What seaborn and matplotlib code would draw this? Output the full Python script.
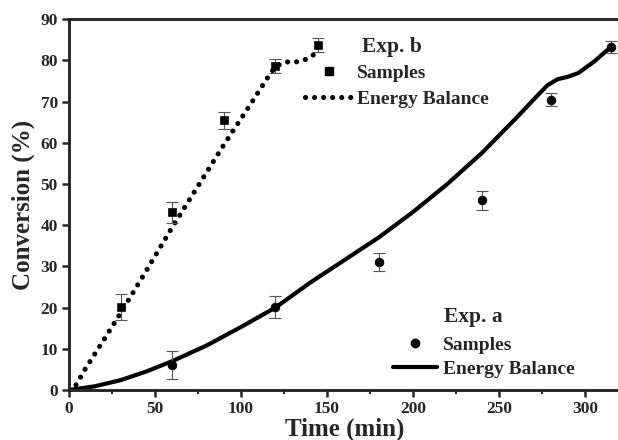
import matplotlib

matplotlib.use("Agg")

import matplotlib.pyplot as plt
import numpy as np
import pandas as pd
import seaborn as sns
from matplotlib.lines import Line2D
from matplotlib.ticker import MultipleLocator

# ── data
# Exp. b
b_time = [30, 60, 90, 120, 145]
b_conv = [20.1, 43.1, 65.4, 78.7, 83.7]
b_err = [3.1, 2.5, 2.1, 1.7, 1.6]
b_model_time = [0, 3, 10, 20, 30, 45, 60, 75, 90, 105, 115, 120, 126, 132, 137, 142, 145]
b_model_conv = [0, 0.5, 5.5, 12, 18.7, 29, 39.5, 49.5, 59.5, 69, 75.5, 78.5, 79.6, 79.6, 80.1, 81.3, 83.5]

# Exp. a
a_time = [60, 120, 180, 240, 280, 315]
a_conv = [6.1, 20.1, 31.0, 46.1, 70.4, 83.3]
a_err = [3.4, 2.7, 2.2, 2.3, 1.6, 1.5]
a_model_time = [0, 15, 30, 45, 60, 80, 100, 120, 140, 160, 180, 200, 220, 240, 260, 272, 278, 284,
                290, 296, 305, 315]
a_model_conv = [0, 0.9, 2.4, 4.5, 7.0, 10.8, 15.3, 20.0, 26.0, 31.5, 37.0, 43.2, 50.0, 57.5, 66.0, 71.3,
                73.9, 75.4, 76.0, 76.9, 79.6, 83.2]

sns.set_style("ticks")
plt.rcParams["font.family"] = ["Liberation Serif", "DejaVu Serif"]
plt.rcParams["font.weight"] = "bold"

fig = plt.figure(figsize=(6.18, 4.4), dpi=100)
ax = fig.add_axes([0.1117, 0.1136, 0.8906, 0.843])

dotted = (0, (0.01, 1.75))
DOT_LW = 3.7
SOLID_LW = 3.0

sns.lineplot(
    data=pd.DataFrame({"t": b_model_time, "c": b_model_conv}), x="t", y="c",
    sort=False, errorbar=None, ax=ax, color="black", linewidth=DOT_LW,
    linestyle=dotted, dash_capstyle="round",
)
sns.lineplot(
    data=pd.DataFrame({"t": a_model_time, "c": a_model_conv}), x="t", y="c",
    sort=False, errorbar=None, ax=ax, color="black", linewidth=SOLID_LW,
    solid_joinstyle="round",
)

ax.errorbar(b_time, b_conv, yerr=b_err, fmt="none", ecolor="#555555", elinewidth=0.8, capsize=4.5, capthick=0.8)
ax.errorbar(a_time, a_conv, yerr=a_err, fmt="none", ecolor="#555555", elinewidth=0.8, capsize=4.5, capthick=0.8)
sns.scatterplot(x=b_time, y=b_conv, ax=ax, marker="s", s=32, color="black", edgecolor="black", zorder=5)
sns.scatterplot(x=a_time, y=a_conv, ax=ax, marker="o", s=40, color="black", edgecolor="black", zorder=5)

ax.set_xlim(0, 320)
ax.set_ylim(0, 90)
ax.xaxis.set_major_locator(MultipleLocator(50))
ax.xaxis.set_minor_locator(MultipleLocator(25))
ax.yaxis.set_major_locator(MultipleLocator(10))
ax.tick_params(axis="both", which="major", direction="out", length=5, width=1.8, labelsize=12.5, pad=3)
ax.tick_params(axis="x", which="minor", direction="out", length=3, width=1.5)
for sp in ["left", "bottom", "top"]:
    ax.spines[sp].set_linewidth(2.1)
ax.spines["right"].set_visible(False)
for lab in ax.get_xticklabels() + ax.get_yticklabels():
    lab.set_fontweight("bold")

ax.set_xlabel("Time (min)", fontsize=18, fontweight="bold", labelpad=0)
ax.set_ylabel("Conversion (%)", fontsize=18, fontweight="bold", labelpad=4)

# legends (titles drawn as text, entries as legends)
ax.text(0.532, 0.9245, "Exp. b", transform=ax.transAxes, fontsize=15.5, fontweight="bold",
        ha="left", va="center")
ax.text(0.681, 0.197, "Exp. a", transform=ax.transAxes, fontsize=15.5, fontweight="bold",
        ha="left", va="center")

hb = [
    Line2D([], [], marker="s", color="black", linestyle="none", markersize=5.5),
    Line2D([], [], color="black", linewidth=DOT_LW, linestyle=dotted, dash_capstyle="round"),
]
leg_b = ax.legend(
    hb, ["Samples", "Energy Balance"], loc="upper left",
    bbox_to_anchor=(0.4288, 0.8786), frameon=False, handlelength=2.47,
    handletextpad=0.2, labelspacing=0.43, borderpad=0, borderaxespad=0,
    prop={"weight": "bold", "size": 14},
)
ax.add_artist(leg_b)

ha = [
    Line2D([], [], marker="o", color="black", linestyle="none", markersize=6),
    Line2D([], [], color="black", linewidth=SOLID_LW),
]
ax.legend(
    ha, ["Samples", "Energy Balance"], loc="upper left",
    bbox_to_anchor=(0.5887, 0.1456), frameon=False, handlelength=2.26,
    handletextpad=0.3, labelspacing=0.36, borderpad=0, borderaxespad=0,
    prop={"weight": "bold", "size": 14},
)

fig.savefig("out.png", dpi=100)
